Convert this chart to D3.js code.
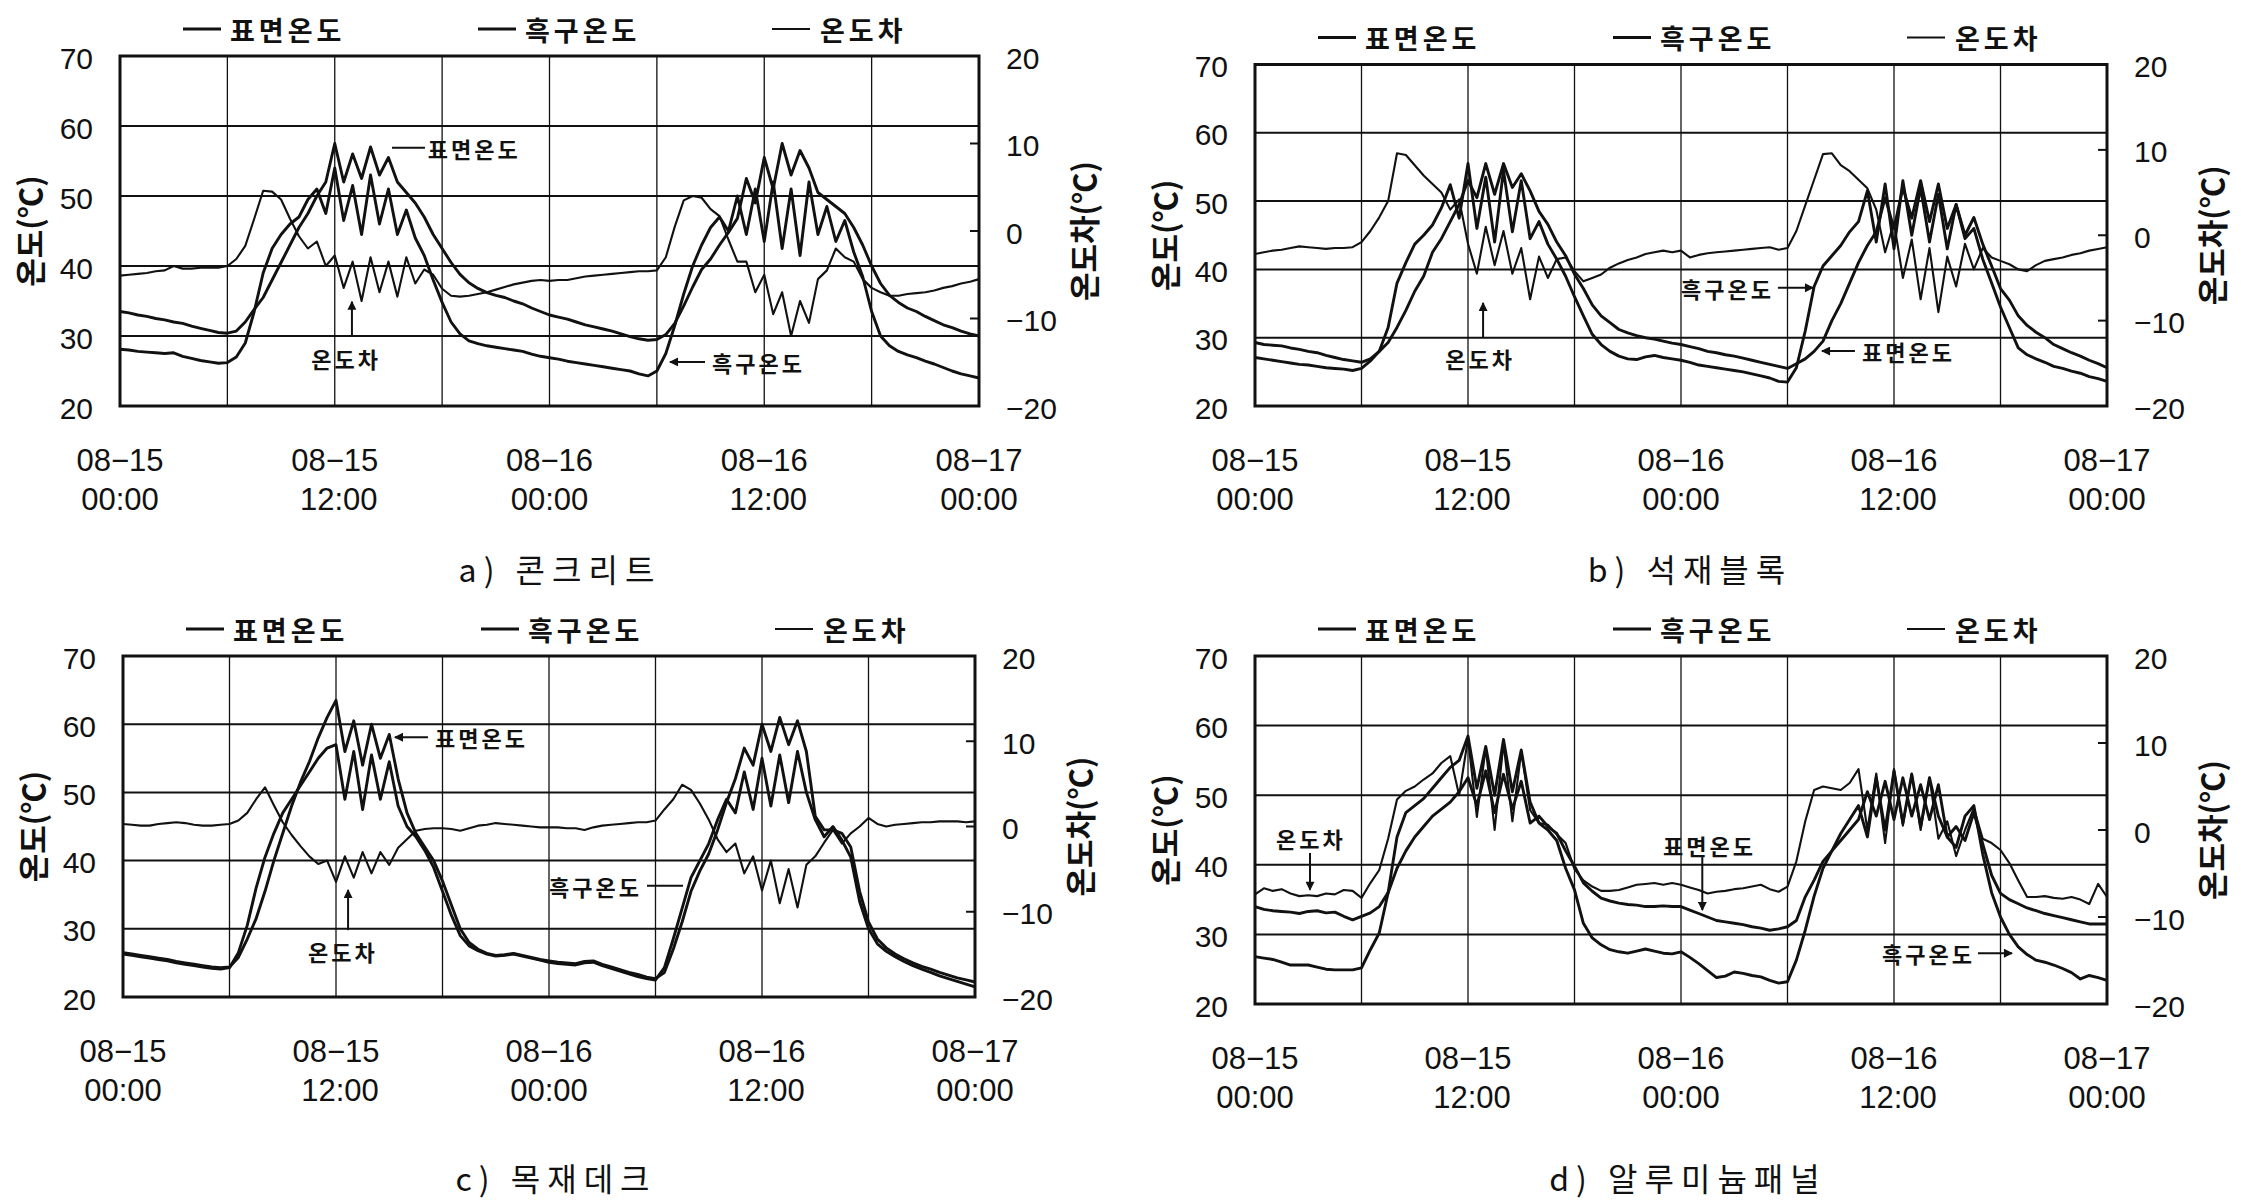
<!DOCTYPE html>
<html><head><meta charset="utf-8">
<script src="https://cdn.jsdelivr.net/npm/d3@7"></script>
<style>body{margin:0;background:#fff}svg{display:block}</style>
</head><body>
<svg id="c" width="2241" height="1204"></svg>
<script>
// ---------- data ----------
const STEP_HOURS = 0.5;                 // sampling step of every series (08-15 00:00 .. 08-17 00:00)
const leftTicks = [20, 30, 40, 50, 60, 70];
const rightTicks = [-20, -10, 0, 10, 20];
const xTickHours = [0, 12, 24, 36, 48];
const xTickDate = ["08−15", "08−15", "08−16", "08−16", "08−17"];
const xTickTime = ["00:00", "12:00", "00:00", "12:00", "00:00"];
const seriesNames = ["표면온도", "흑구온도", "온도차"];
const leftTitle = "온도(℃)";
const rightTitle = "온도차(℃)";
const captions = ["a) 콘크리트", "b) 석재블록", "c) 목재데크", "d) 알루미늄패널"];

// a) concrete
const aSurf = [33.5,33.3,33.0,32.8,32.5,32.3,32.0,31.8,31.4,31.1,30.8,30.5,30.4,30.7,32.0,33.8,35.5,38.0,40.5,43.0,45.5,47.5,50.0,52.0,57.5,52.0,56.0,52.5,57.0,53.0,55.5,52.0,50.5,49.0,47.0,44.5,42.5,40.5,38.8,37.6,36.8,36.2,35.8,35.5,35.0,34.6,34.0,33.5,
 33.0,32.7,32.4,32.0,31.6,31.3,31.0,30.7,30.3,29.9,29.6,29.4,29.5,30.2,31.8,34.3,37.0,39.5,41.0,43.0,44.8,46.8,52.5,49.0,55.5,51.0,57.5,53.0,56.5,54.0,50.5,49.5,48.5,47.5,45.5,43.0,40.0,37.5,35.8,34.8,34.0,33.5,32.8,32.2,31.6,31.2,30.7,30.3,30.0];
const aGlobe = [28.1,28.0,27.8,27.7,27.6,27.5,27.6,27.1,26.8,26.5,26.3,26.1,26.2,27.0,29.0,33.5,39.0,42.5,44.5,46.0,47.0,49.5,51.0,47.5,54.0,46.5,51.5,44.5,53.0,46.0,51.0,44.5,48.0,44.0,41.5,38.0,34.8,32.0,30.3,29.3,28.9,28.6,28.4,28.2,28.0,27.8,27.4,27.1,
 26.9,26.7,26.4,26.2,26.0,25.8,25.6,25.4,25.2,25.0,24.6,24.3,25.0,27.5,31.5,36.0,40.0,43.0,45.5,47.0,45.0,50.0,44.5,51.0,43.5,52.0,42.5,51.0,41.5,52.0,44.5,48.5,43.5,46.5,42.0,38.5,33.5,30.0,28.6,27.8,27.3,26.9,26.4,26.0,25.5,25.0,24.6,24.3,24.0];
const aDiff = [-5.1,-5.0,-4.9,-4.8,-4.6,-4.5,-4.0,-4.3,-4.3,-4.2,-4.2,-4.2,-4.0,-3.2,-1.7,1.4,4.6,4.5,3.6,1.4,-0.6,-2.0,-1.2,-4.0,-2.8,-6.5,-3.5,-8.0,-3.0,-7.0,-3.5,-7.5,-3.0,-6.0,-4.4,-5.0,-6.6,-7.4,-7.5,-7.4,-7.2,-7.0,-6.7,-6.4,-6.1,-5.9,-5.7,-5.6,
 -5.7,-5.6,-5.6,-5.4,-5.2,-5.1,-5.0,-4.9,-4.8,-4.7,-4.6,-4.6,-4.5,-3.0,0.5,3.5,4.0,3.8,2.5,1.7,-1.0,-3.5,-3.5,-7.0,-5.0,-9.5,-7.0,-12.0,-8.0,-10.5,-5.5,-4.5,-2.0,-3.0,-3.5,-5.5,-6.5,-7.0,-7.4,-7.4,-7.2,-7.1,-7.0,-6.8,-6.5,-6.3,-6.0,-5.8,-5.5];

// b) stone block
const bSurf = [29.3,29.0,28.9,28.8,28.5,28.3,28.0,27.8,27.4,27.1,26.8,26.6,26.4,26.9,28.0,29.3,31.5,34.0,36.8,39.0,42.5,44.5,47.0,49.5,53.0,50.5,55.5,51.0,55.5,52.0,54.0,51.5,48.5,46.6,44.0,42.0,39.3,37.2,34.8,33.2,32.2,31.2,30.7,30.3,30.0,29.8,29.5,29.2,
 29.0,28.7,28.4,28.0,27.8,27.5,27.3,27.0,26.7,26.4,26.1,25.8,25.5,26.2,26.9,28.0,29.5,32.5,35.0,38.0,41.0,43.5,45.5,50.5,46.0,52.0,47.5,53.0,47.0,52.5,46.0,49.5,45.0,47.6,43.7,40.5,37.2,35.5,33.2,31.8,30.8,30.0,29.0,28.4,27.8,27.3,26.7,26.2,25.6];
const bGlobe = [27.1,26.9,26.7,26.5,26.3,26.1,26.0,25.8,25.6,25.5,25.4,25.2,25.5,26.6,28.0,31.5,38.0,41.0,43.7,45.0,46.5,49.0,52.4,47.5,55.5,46.0,53.5,44.0,54.5,45.5,53.0,44.5,47.0,43.7,41.5,39.0,36.0,33.2,30.5,29.0,28.0,27.3,26.9,26.8,27.2,27.4,27.1,26.9,
 26.7,26.4,26.0,25.8,25.6,25.4,25.2,25.0,24.7,24.4,24.1,23.6,23.5,25.6,31.0,37.5,40.5,42.0,43.5,45.5,47.0,51.5,44.0,52.5,43.0,53.0,45.0,52.0,44.0,51.0,43.0,49.5,44.5,46.0,41.5,38.0,34.5,31.5,28.5,27.5,26.9,26.4,25.8,25.5,25.1,24.8,24.3,24.0,23.6];
const bDiff = [-2.2,-2.0,-1.8,-1.7,-1.5,-1.3,-1.4,-1.5,-1.6,-1.5,-1.5,-1.4,-0.8,0.5,2.1,4.0,9.6,9.4,8.2,7.0,6.0,5.0,3.0,4.2,-1.0,-4.5,1.0,-3.5,0.5,-4.5,-1.5,-7.5,-2.5,-5.0,-2.8,-2.6,-4.2,-5.4,-5.0,-4.6,-3.8,-3.3,-2.9,-2.6,-2.2,-2.0,-1.8,-2.0,
 -1.8,-2.6,-2.3,-2.1,-2.0,-1.9,-1.8,-1.7,-1.6,-1.5,-1.4,-1.7,-1.5,0.5,3.5,6.5,9.5,9.6,8.2,7.5,6.5,5.5,3.0,-2.0,1.5,-5.0,-0.5,-7.5,-1.5,-9.0,-2.5,-6.0,-1.0,-4.0,-1.5,-2.6,-3.0,-3.4,-4.0,-4.2,-3.5,-3.0,-2.8,-2.6,-2.3,-2.1,-1.8,-1.6,-1.4];

// c) wooden deck
const cSurf = [26.5,26.3,26.1,25.9,25.7,25.5,25.2,25.0,24.8,24.6,24.4,24.3,24.4,25.8,28.5,31.5,35.5,40.0,44.0,48.0,51.5,54.5,58.0,61.0,63.5,56.0,60.5,54.0,60.0,55.0,58.5,52.0,47.0,44.0,42.0,40.0,37.0,33.5,30.0,28.0,27.0,26.4,26.1,26.2,26.4,26.1,25.8,25.5,
 25.3,25.1,25.0,24.9,25.2,25.3,24.8,24.4,24.0,23.6,23.3,22.9,22.7,23.6,27.0,31.0,35.5,38.5,41.0,44.5,48.5,52.0,56.5,54.0,60.0,56.0,61.0,57.0,60.5,56.0,46.5,44.5,44.5,44.0,42.0,35.5,31.0,28.5,27.2,26.3,25.6,25.0,24.5,24.1,23.6,23.2,22.8,22.5,22.2];
const cGlobe = [26.3,26.1,25.9,25.7,25.5,25.3,25.0,24.8,24.6,24.4,24.2,24.1,24.3,26.5,30.5,36.0,40.5,44.0,47.0,49.0,51.0,53.0,55.0,56.5,57.0,49.0,56.0,47.5,55.5,49.0,54.5,48.0,45.0,43.5,41.5,39.0,35.5,32.0,29.0,27.5,26.8,26.3,26.0,26.1,26.3,26.0,25.7,25.4,
 25.1,24.9,24.8,24.7,25.0,25.1,24.6,24.2,23.8,23.4,23.0,22.7,22.5,24.3,28.5,33.0,37.5,40.0,42.5,46.0,49.0,47.0,53.0,47.5,55.0,48.0,55.5,48.5,56.0,50.0,46.0,43.5,45.0,43.0,40.5,34.0,30.0,27.8,26.7,25.9,25.2,24.6,24.1,23.6,23.1,22.7,22.3,21.9,21.5];
const cDiff = [0.3,0.2,0.1,0.1,0.3,0.4,0.5,0.4,0.2,0.1,0.1,0.2,0.3,0.7,1.6,3.2,4.6,2.5,0.5,-1.0,-2.3,-3.5,-4.4,-4.0,-6.5,-3.5,-6.0,-3.0,-5.5,-3.0,-4.5,-2.5,-1.5,-0.5,-0.3,-0.2,-0.2,-0.3,-0.5,-0.2,0.1,0.2,0.4,0.3,0.2,0.1,0.0,-0.1,
 -0.1,-0.1,-0.2,-0.2,-0.4,-0.1,0.1,0.2,0.3,0.4,0.5,0.5,0.7,2.0,3.2,4.9,4.3,2.7,0.8,-1.5,-3.0,-2.0,-5.5,-3.5,-7.5,-4.0,-9.0,-5.0,-9.5,-4.5,-3.5,-1.9,-0.4,-2.0,-0.8,0.0,1.0,0.3,0.0,0.2,0.3,0.4,0.5,0.5,0.6,0.6,0.6,0.5,0.6];

// d) aluminium panel
const dSurf = [34.0,33.6,33.4,33.3,33.2,33.0,33.3,33.4,33.1,33.2,32.6,32.1,32.6,33.1,34.0,36.0,39.5,42.0,44.0,45.5,47.0,48.0,49.0,50.5,52.5,48.5,53.5,47.5,53.0,48.0,52.0,46.0,47.0,45.5,44.5,42.0,39.8,37.4,36.2,35.2,34.8,34.5,34.3,34.2,34.0,34.0,34.1,34.0,
 34.0,33.5,33.0,32.5,32.0,31.8,31.6,31.4,31.1,30.9,30.6,30.8,31.1,32.0,35.4,37.8,40.5,42.0,43.5,45.0,46.5,50.5,47.0,52.0,46.5,52.5,47.0,51.5,46.5,51.5,44.0,45.5,43.5,47.5,43.0,38.5,35.9,35.0,34.4,33.8,33.4,33.0,32.7,32.4,32.1,31.8,31.5,31.5,31.5];
const dGlobe = [26.8,26.6,26.4,26.0,25.6,25.6,25.6,25.3,25.0,24.9,24.9,24.9,25.2,27.8,30.2,36.0,44.0,47.5,48.5,49.5,51.0,52.5,54.0,55.0,58.5,51.0,57.0,50.0,58.0,50.5,56.5,49.0,46.0,45.0,43.5,39.5,36.4,31.6,29.5,28.5,27.8,27.5,27.3,27.6,27.9,27.6,27.3,27.2,
 27.5,26.7,25.8,24.8,23.8,24.0,24.6,24.4,24.1,23.9,23.4,23.0,23.2,26.3,30.6,35.5,39.5,42.0,44.5,46.5,48.5,44.0,52.5,45.0,53.5,46.0,53.0,45.5,52.5,47.0,44.0,42.5,47.0,48.5,41.5,36.0,32.5,30.0,28.2,27.1,26.3,26.0,25.6,25.1,24.5,23.6,24.1,23.8,23.4];
const dDiff = [-7.4,-6.7,-7.0,-6.8,-7.3,-7.6,-7.5,-7.6,-7.3,-7.4,-6.9,-7.0,-7.8,-6.1,-4.6,-1.0,3.5,4.5,5.0,5.8,6.5,7.7,8.5,4.0,10.5,1.5,9.5,0.0,10.0,1.0,9.0,2.3,0.8,0.6,-0.5,-1.5,-4.5,-5.8,-6.5,-7.0,-7.0,-6.9,-6.6,-6.3,-6.2,-6.1,-6.3,-6.1,
 -6.3,-6.6,-6.9,-7.3,-7.1,-7.0,-6.8,-6.7,-6.5,-6.3,-6.8,-7.1,-6.5,-3.6,1.0,4.6,5.0,4.8,4.6,5.4,7.0,0.0,6.5,-1.5,7.0,0.5,6.5,0.0,6.0,-1.0,1.0,-3.0,0.0,2.5,-1.0,-1.5,-2.3,-3.8,-5.8,-7.7,-7.7,-7.6,-7.8,-7.9,-7.7,-8.0,-8.5,-6.2,-7.7];

// ---------- layout ----------
const panels = [
  {L:120, R:979, T:56, B:406, cap:[560,568], surf:aSurf, globe:aGlobe, diff:aDiff, notes:[
    {t:"표면온도", tail:[17.04,56.9], tip:[15.2,56.9], text:[17.2,56.9], anchor:"start", head:false},
    {t:"온도차", tail:[12.96,29.9], tip:[12.96,34.9], text:[12.63,26.9], anchor:"middle", head:true},
    {t:"흑구온도", tail:[32.69,26.3], tip:[30.73,26.3], text:[33.08,26.3], anchor:"start", head:true}]},
  {L:1255, R:2107, T:64.5, B:406, cap:[1690,568], surf:bSurf, globe:bGlobe, diff:bDiff, notes:[
    {t:"온도차", tail:[12.85,30.0], tip:[12.85,35.1], text:[12.68,27.0], anchor:"middle", head:true},
    {t:"흑구온도", tail:[29.46,37.3], tip:[31.44,37.3], text:[29.24,37.3], anchor:"end", head:true},
    {t:"표면온도", tail:[33.8,28.05], tip:[31.94,28.05], text:[34.2,28.05], anchor:"start", head:true}]},
  {L:123, R:975, T:656, B:997, cap:[556,1177], surf:cSurf, globe:cGlobe, diff:cDiff, notes:[
    {t:"표면온도", tail:[17.18,58.1], tip:[15.32,58.1], text:[17.58,58.1], anchor:"start", head:true},
    {t:"온도차", tail:[12.68,29.8], tip:[12.68,35.7], text:[12.39,26.75], anchor:"middle", head:true},
    {t:"흑구온도", tail:[29.52,36.3], tip:[31.55,36.3], text:[29.24,36.3], anchor:"end", head:false}]},
  {L:1255, R:2107, T:656, B:1004, cap:[1688,1177], surf:dSurf, globe:dGlobe, diff:dDiff, notes:[
    {t:"온도차", tail:[3.1,41.7], tip:[3.1,36.4], text:[3.15,43.85], anchor:"middle", head:true},
    {t:"표면온도", tail:[25.2,41.4], tip:[25.2,33.5], text:[25.6,42.8], anchor:"middle", head:true},
    {t:"흑구온도", tail:[40.73,27.3], tip:[42.65,27.3], text:[40.56,27.3], anchor:"end", head:true}]}
];

const KR = "'Noto Sans CJK KR','Noto Sans CJK SC',sans-serif";
const NUM = "'Liberation Sans',Arial,sans-serif";
const INK = "#111";

const svg = d3.select("#c");
svg.append("rect").attr("width",2241).attr("height",1204).attr("fill","#fff");
svg.append("defs").append("marker").attr("id","ah").attr("viewBox","0 0 10 10")
  .attr("refX",9).attr("refY",5).attr("markerWidth",11).attr("markerHeight",9)
  .attr("markerUnits","userSpaceOnUse").attr("orient","auto")
  .append("path").attr("d","M0,0 L10,5 L0,10 z").attr("fill",INK);

panels.forEach((p, pi) => {
  const g = svg.append("g");
  const x = d3.scaleLinear().domain([0,48]).range([p.L,p.R]);
  const yL = d3.scaleLinear().domain([20,70]).range([p.B,p.T]);
  const yR = d3.scaleLinear().domain([-20,20]).range([p.B,p.T]);

  // grid
  g.selectAll(".hg").data([30,40,50,60]).join("line")
    .attr("x1",p.L).attr("x2",p.R).attr("y1",d=>yL(d)).attr("y2",d=>yL(d))
    .attr("stroke",INK).attr("stroke-width",2);
  g.selectAll(".vg").data([6,12,18,24,30,36,42]).join("line")
    .attr("x1",d=>x(d)).attr("x2",d=>x(d)).attr("y1",p.T).attr("y2",p.B)
    .attr("stroke",INK).attr("stroke-width",1.3);
  // right inner ticks
  g.selectAll(".rt").data([-10,0,10]).join("line")
    .attr("x1",p.R-9).attr("x2",p.R).attr("y1",d=>yR(d)).attr("y2",d=>yR(d))
    .attr("stroke",INK).attr("stroke-width",2);

  // series
  const mk = sc => d3.line().x((d,i)=>x(i*STEP_HOURS)).y(d=>sc(d));
  g.append("path").attr("d",mk(yR)(p.diff)).attr("fill","none").attr("stroke",INK).attr("stroke-width",2.1).attr("stroke-linejoin","round");
  g.append("path").attr("d",mk(yL)(p.globe)).attr("fill","none").attr("stroke",INK).attr("stroke-width",2.9).attr("stroke-linejoin","round");
  g.append("path").attr("d",mk(yL)(p.surf)).attr("fill","none").attr("stroke",INK).attr("stroke-width",2.9).attr("stroke-linejoin","round");

  // frame
  g.append("rect").attr("x",p.L).attr("y",p.T).attr("width",p.R-p.L).attr("height",p.B-p.T)
    .attr("fill","none").attr("stroke",INK).attr("stroke-width",3);

  // y axes
  const ax1 = g.append("g").attr("transform",`translate(${p.L},0)`)
    .call(d3.axisLeft(yL).tickValues(leftTicks).tickSize(0).tickPadding(27));
  const ax2 = g.append("g").attr("transform",`translate(${p.R},0)`)
    .call(d3.axisRight(yR).tickValues(rightTicks).tickSize(0).tickPadding(27)
      .tickFormat(d => d < 0 ? "−" + Math.abs(d) : String(d)));
  [ax1, ax2].forEach(a => {
    a.select(".domain").remove();
    a.selectAll("text").attr("font-family",NUM).attr("font-size",30).attr("fill",INK).attr("dy","0.4em");
  });

  // x labels
  xTickHours.forEach((h,i) => {
    g.append("text").attr("x",x(h)).attr("y",p.B+54).attr("text-anchor","middle").attr("dominant-baseline","central")
      .attr("font-family",NUM).attr("font-size",31).attr("fill",INK).text(xTickDate[i]);
    g.append("text").attr("x",x(h)+(i===1||i===3?4:0)).attr("y",p.B+93).attr("text-anchor","middle").attr("dominant-baseline","central")
      .attr("font-family",NUM).attr("font-size",31).attr("fill",INK).text(xTickTime[i]);
  });

  // axis titles
  const my = (p.T+p.B)/2;
  g.append("text").attr("transform",`translate(${p.L-92},${my}) rotate(-90)`).attr("text-anchor","middle")
    .attr("dominant-baseline","central").attr("font-family",KR).attr("font-size",31).attr("font-weight",700)
    .attr("fill",INK).text(leftTitle);
  g.append("text").attr("transform",`translate(${p.R+103},${my}) rotate(-90)`).attr("text-anchor","middle")
    .attr("dominant-baseline","central").attr("font-family",KR).attr("font-size",31).attr("font-weight",700)
    .attr("fill",INK).text(rightTitle);

  // legend
  const lineOff = [63,358,652], textOff = [110,405,700], lw = [3,3,1.8];
  seriesNames.forEach((s,i) => {
    const ly = p.T-27;
    g.append("line").attr("x1",p.L+lineOff[i]).attr("x2",p.L+lineOff[i]+38).attr("y1",ly).attr("y2",ly)
      .attr("stroke",INK).attr("stroke-width",lw[i]);
    g.append("text").attr("x",p.L+textOff[i]).attr("y",ly).attr("dominant-baseline","central")
      .attr("font-family",KR).attr("font-size",27).attr("font-weight",700).attr("letter-spacing",4)
      .attr("fill",INK).text(s);
  });

  // annotations
  p.notes.forEach(n => {
    const ln = g.append("line").attr("x1",x(n.tail[0])).attr("y1",yL(n.tail[1]))
      .attr("x2",x(n.tip[0])).attr("y2",yL(n.tip[1])).attr("stroke",INK).attr("stroke-width",2);
    if (n.head) ln.attr("marker-end","url(#ah)");
    g.append("text").attr("x",x(n.text[0])).attr("y",yL(n.text[1])).attr("text-anchor",n.anchor)
      .attr("dominant-baseline","central").attr("font-family",KR).attr("font-size",22).attr("font-weight",700)
      .attr("letter-spacing",3).attr("fill",INK).text(n.t);
  });

  // caption
  g.append("text").attr("x",p.cap[0]).attr("y",p.cap[1]).attr("text-anchor","middle").attr("dominant-baseline","central")
    .attr("font-family",KR).attr("font-size",32).attr("letter-spacing",7).attr("fill",INK).text(captions[pi]);
});
</script>
</body></html>
